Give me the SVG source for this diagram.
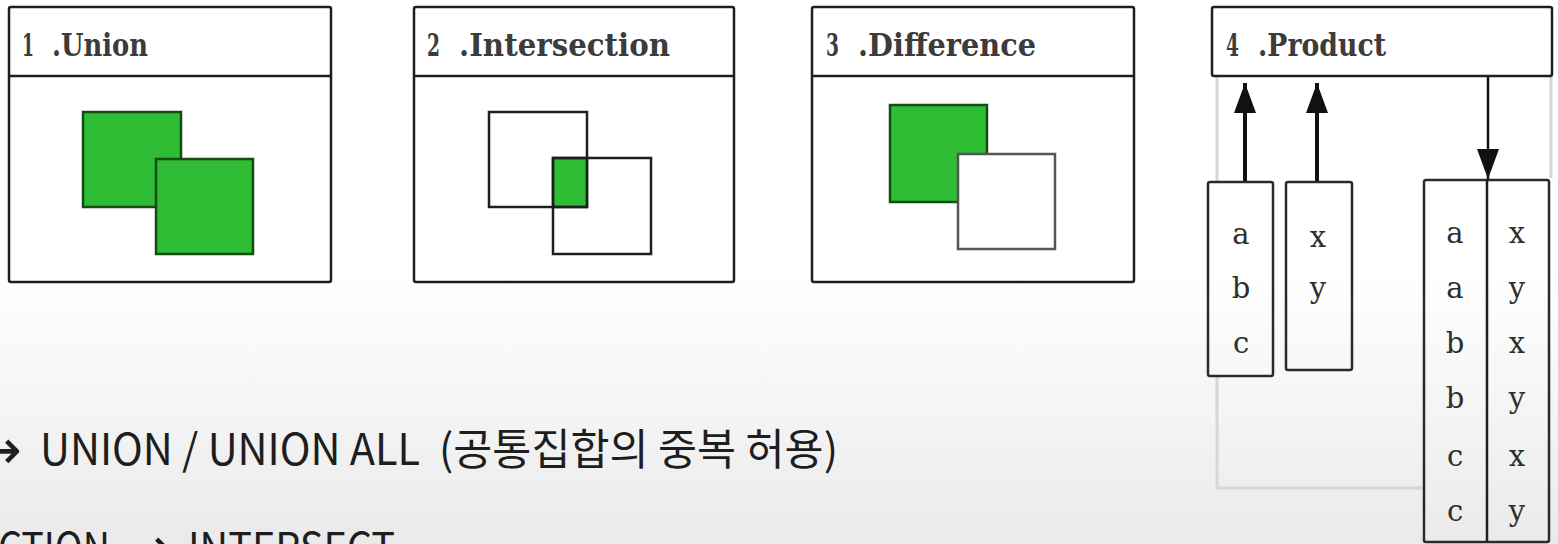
<svg xmlns="http://www.w3.org/2000/svg" width="1558" height="544" viewBox="0 0 1558 544">
<style>
.panel{fill:#ffffff;stroke:#1e1e1e;stroke-width:2.5}
.hdr{fill:none;stroke:#1e1e1e;stroke-width:2.5}
.title{font-family:"DejaVu Serif","Liberation Serif",serif;font-size:31px;font-weight:bold;fill:#3c3c3c}
.green{fill:#2ebd35;stroke:#134d13;stroke-width:2.5}
.open{fill:none;stroke:#1e1e1e;stroke-width:2.5}
.openw{fill:#ffffff;stroke:#555555;stroke-width:2.5}
.tbl{fill:url(#bg);stroke:#2a2a2a;stroke-width:2.5}
.cell{font-family:"DejaVu Serif","Liberation Serif",serif;font-size:29px;fill:#2e2e2e;text-anchor:middle}
.frame{fill:none;stroke:#d6d6d6;stroke-width:3}
.arrow{stroke:#111111;fill:none}
.cap{font-family:"Noto Sans CJK KR","Noto Sans",sans-serif;font-size:43px;fill:#1e1e1e}
.caparrow{font-family:"DejaVu Sans",sans-serif;font-size:56px;fill:#1e1e1e;text-anchor:end}
</style>
<defs>
<linearGradient id="bg" gradientUnits="userSpaceOnUse" x1="0" y1="0" x2="0" y2="544">
<stop offset="0" stop-color="#ffffff"/>
<stop offset="0.5" stop-color="#ffffff"/>
<stop offset="1" stop-color="#eaeaea"/>
</linearGradient>
<marker id="head" viewBox="0 0 30 22" refX="30" refY="11" markerWidth="30" markerHeight="22" markerUnits="userSpaceOnUse" orient="auto">
<path d="M0,0 L30,11 L0,22 Z" fill="#111111"/>
</marker>
</defs>
<rect x="0" y="0" width="1558" height="544" fill="url(#bg)"/>

<g id="panel-union">
<rect class="panel" x="9" y="7" width="322" height="275" rx="2"/>
<line class="hdr" x1="9" y1="76" x2="331" y2="76"/>
<text class="title" x="22" y="56" textLength="12" lengthAdjust="spacingAndGlyphs">1</text>
<text class="title" x="52" y="56" textLength="96" lengthAdjust="spacingAndGlyphs">.Union</text>
<rect class="green" x="83" y="112" width="98" height="95"/>
<rect class="green" x="156" y="159" width="97" height="95"/>
</g>

<g id="panel-intersection">
<rect class="panel" x="414" y="7" width="320" height="275" rx="2"/>
<line class="hdr" x1="414" y1="76" x2="734" y2="76"/>
<text class="title" x="427" y="56" textLength="13" lengthAdjust="spacingAndGlyphs">2</text>
<text class="title" x="459" y="56" textLength="211" lengthAdjust="spacingAndGlyphs">.Intersection</text>
<rect class="green" x="553" y="158" width="34" height="49"/>
<rect class="open" x="489" y="112" width="98" height="95"/>
<rect class="open" x="553" y="158" width="98" height="96"/>
</g>

<g id="panel-difference">
<rect class="panel" x="812" y="7" width="322" height="275" rx="2"/>
<line class="hdr" x1="812" y1="76" x2="1134" y2="76"/>
<text class="title" x="826" y="56" textLength="13" lengthAdjust="spacingAndGlyphs">3</text>
<text class="title" x="858" y="56" textLength="178" lengthAdjust="spacingAndGlyphs">.Difference</text>
<rect class="green" x="890" y="105" width="97" height="97"/>
<rect class="openw" x="958" y="154" width="97" height="95"/>
</g>

<g id="connectors">
<path class="frame" d="M1217,76 V488 H1424"/>
<path class="frame" d="M1551,76 V178"/>
<line class="arrow" x1="1245" y1="181" x2="1245" y2="83" stroke-width="4" marker-end="url(#head)"/>
<line class="arrow" x1="1317" y1="181" x2="1317" y2="83" stroke-width="4" marker-end="url(#head)"/>
<line class="arrow" x1="1488" y1="76" x2="1488" y2="179" stroke-width="2.5" marker-end="url(#head)"/>
</g>

<g id="panel-product">
<rect class="panel" x="1212" y="7" width="340" height="69" rx="2"/>
<text class="title" x="1226" y="56" textLength="13" lengthAdjust="spacingAndGlyphs">4</text>
<text class="title" x="1258" y="56" textLength="128" lengthAdjust="spacingAndGlyphs">.Product</text>
</g>

<g id="table-abc">
<rect class="tbl" x="1208" y="182" width="65" height="194" rx="2"/>
<text class="cell" x="1241" y="244">a</text>
<text class="cell" x="1241" y="298">b</text>
<text class="cell" x="1241" y="353">c</text>
</g>

<g id="table-xy">
<rect class="tbl" x="1286" y="182" width="66" height="188" rx="2"/>
<text class="cell" x="1318" y="247">x</text>
<text class="cell" x="1318" y="298">y</text>
</g>

<g id="table-product">
<rect class="tbl" x="1424" y="180" width="125" height="362" rx="2"/>
<line class="hdr" x1="1487" y1="180" x2="1487" y2="542"/>
<text class="cell" x="1455" y="243">a</text>
<text class="cell" x="1455" y="298">a</text>
<text class="cell" x="1455" y="353">b</text>
<text class="cell" x="1455" y="408">b</text>
<text class="cell" x="1455" y="466">c</text>
<text class="cell" x="1455" y="521">c</text>
<text class="cell" x="1517" y="243">x</text>
<text class="cell" x="1517" y="298">y</text>
<text class="cell" x="1517" y="353">x</text>
<text class="cell" x="1517" y="408">y</text>
<text class="cell" x="1517" y="466">x</text>
<text class="cell" x="1517" y="521">y</text>
</g>

<g id="caption">
<text class="caparrow" x="22" y="469">→</text>
<text class="cap" x="40" y="465" textLength="380" lengthAdjust="spacingAndGlyphs">UNION / UNION ALL</text>
<text class="cap" x="439" y="465" textLength="399" lengthAdjust="spacingAndGlyphs">(공통집합의 중복 허용)</text>
<text class="cap" x="-2" y="564" textLength="112" lengthAdjust="spacingAndGlyphs">CTION</text>
<text class="caparrow" x="172" y="567">→</text>
<text class="cap" x="188" y="564" textLength="207" lengthAdjust="spacingAndGlyphs">INTERSECT</text>
</g>
</svg>
